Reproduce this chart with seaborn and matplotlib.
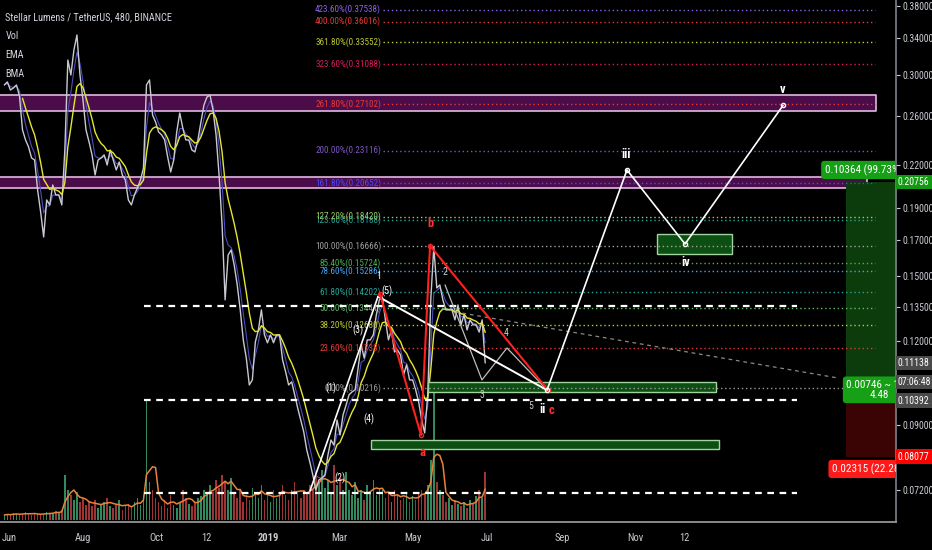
import numpy as np
import pandas as pd
import matplotlib
matplotlib.use("Agg")
import matplotlib.pyplot as plt
import matplotlib.ticker as mticker
from matplotlib import font_manager
from matplotlib.patches import Rectangle
import seaborn as sns

# XLM/USDT closes, one sample every 60h from 2018-05-28
close = [0.2897, 0.2927, 0.2847, 0.2867, 0.2897, 0.2789, 0.2482, 0.2398, 0.2341, 0.2254,
         0.2238, 0.2019, 0.1872, 0.1718, 0.1951, 0.1918, 0.2054, 0.1985, 0.1985, 0.1918,
         0.2317, 0.3156, 0.2998, 0.3267, 0.3439, 0.2998, 0.2751, 0.2482, 0.2382, 0.2278,
         0.2126, 0.2238, 0.2254, 0.2278, 0.2200, 0.2317, 0.2238, 0.2163, 0.2223, 0.2126,
         0.2090, 0.1951, 0.1918, 0.1985, 0.2033, 0.2090, 0.2177, 0.2897, 0.2947, 0.2613,
         0.2550, 0.2465, 0.2440, 0.2398, 0.2262, 0.2148, 0.2238, 0.2465, 0.2631, 0.2498,
         0.2398, 0.2398, 0.2317, 0.2301, 0.2398, 0.2550, 0.2704, 0.2779, 0.2798, 0.2658,
         0.2440, 0.2126, 0.1790, 0.1384, 0.1615, 0.1643, 0.1560, 0.1457, 0.1337, 0.1206,
         0.1133, 0.1033, 0.1051, 0.1198, 0.1248, 0.1337, 0.1227, 0.1194, 0.1227, 0.1194,
         0.1227, 0.1227, 0.1126, 0.1081, 0.1033, 0.1044, 0.0999, 0.0954, 0.0916, 0.0879,
         0.0826, 0.0793, 0.0758, 0.0720, 0.0745, 0.0750, 0.0758, 0.0812, 0.0855, 0.0840,
         0.0916, 0.0870, 0.0932, 0.0964, 0.0999, 0.1009, 0.1016, 0.1096, 0.1185, 0.1133,
         0.1206, 0.1206, 0.1227, 0.1314, 0.1384, 0.1398, 0.1292, 0.1206, 0.1248, 0.1157,
         0.1165, 0.1145, 0.1069, 0.1107, 0.1051, 0.1051, 0.1016, 0.0974, 0.0916, 0.0876,
         0.0999, 0.1384, 0.1660, 0.1442, 0.1457, 0.1384, 0.1337, 0.1337, 0.1337, 0.1292,
         0.1360, 0.1270, 0.1314, 0.1248, 0.1292, 0.1270, 0.1270, 0.1239, 0.1292, 0.1114]

volume = [5, 6, 5, 7, 6, 5, 6, 8, 6, 5, 7, 6, 5, 6, 8, 7, 6, 9, 8, 10,
          45, 30, 25, 20, 28, 18, 22,
          15, 18, 14, 20, 12, 16, 18, 22, 14, 12, 15, 20, 10, 14, 16, 12, 18, 22, 15, 25,
          120, 38, 30, 22,
          18, 14, 20, 12, 25, 15, 12, 18, 30, 22, 16, 14, 18, 22, 24,
          30, 25, 35, 28, 40, 32, 45, 38, 30, 42,
          28, 22, 30, 18, 25, 20, 32, 28, 22, 35,
          20, 25, 18, 30, 22, 28, 35, 25, 20, 30, 38, 26, 22, 30,
          28, 35, 30, 45, 38, 50, 32, 40, 28, 55, 35, 42, 30,
          48, 30, 25, 38, 22, 30, 20, 35, 28, 40, 25, 32, 30,
          22, 28, 18, 30, 25, 20, 22, 26, 18, 24, 20, 28, 30, 26, 35,
          60, 130, 38, 30, 25,
          18, 22, 15, 20, 16, 14, 18, 12, 20, 16, 24, 30, 22, 48]

# fibonacci extension
fib_base = 0.10216
fib_one = 0.16666
fib_ratios = [0, 0.236, 0.382, 0.5, 0.618, 0.786, 0.854, 1.0, 1.236, 1.272,
              1.618, 2.0, 2.618, 3.236, 3.618, 4.0, 4.236]
fib_colors = ['#9a9a9a', '#e53935', '#c0ca33', '#66bb6a', '#26a69a', '#42a5f5', '#4caf50',
              '#a0a0a0', '#26a69a', '#9ccc65', '#4a4aff', '#7e57c2', '#e53935', '#d81b60',
              '#c0ca33', '#e53935', '#8c63e8']

# wave counts (day since 2018-06-01, price)
impulse_day = [248.7, 304.9]
impulse_px = [0.0718, 0.1400]
abc_day = [306.5, 340.4, 347.9, 445.4]
abc_px = [0.1412, 0.0870, 0.1667, 0.1015]
wave_ii_day = [304.9, 444.6]
wave_ii_px = [0.1400, 0.1015]
sub_day = [360.3, 390.8, 411.5, 444.6]
sub_px = [0.1457, 0.1051, 0.1173, 0.1016]
proj_day = [444.6, 510.7, 558.7, 639.7]
proj_px = [0.1015, 0.2163, 0.1677, 0.2700]
trend_day = [368.6, 685.2]
trend_px = [0.1328, 0.1058]

labels = [("1", 305.7, 0.1503, 'white', 7), ("(5)", 312.3, 0.1427, 'white', 7),
          ("(3)", 288.3, 0.1248, 'white', 7), ("(4)", 297.4, 0.0919, 'white', 7),
          ("(1)", 266.0, 0.1023, 'white', 7), ("(2)", 273.5, 0.0750, 'white', 7),
          ("2", 360.3, 0.1524, '#cccccc', 7), ("3", 390.8, 0.0999, '#cccccc', 7),
          ("4", 410.7, 0.1236, '#cccccc', 7), ("5", 431.3, 0.0961, '#cccccc', 7),
          ("ii", 440.5, 0.0951, 'white', 9), ("c", 448.7, 0.0945, '#ff3030', 9),
          ("a", 341.3, 0.0820, '#ff3030', 9), ("b", 347.9, 0.1797, '#ff3030', 9),
          ("iii", 509.9, 0.2277, 'white', 9), ("iv", 559.5, 0.1571, 'white', 9),
          ("v", 639.7, 0.2847, 'white', 9)]

dashed_levels = [0.1356, 0.0981, 0.0713]
bands = [(0.2650, 0.2795, 716.6), (0.2036, 0.2108, 709.1)]
zones = [(346.2, 584.3, 0.1009, 0.1044), (299.1, 586.8, 0.0829, 0.0855),
         (535.5, 597.5, 0.1621, 0.1736)]

entry, target, stop = 0.10392, 0.20756, 0.08077
last_price = 0.11138

price_ticks = [0.072, 0.09, 0.12, 0.135, 0.15, 0.17, 0.19, 0.22, 0.26, 0.30, 0.34, 0.38]
date_ticks = [0, 61, 122, 163, 214, 273, 334, 395, 457, 518, 558]
date_labels = ['Jun', 'Aug', 'Oct', '12', '2019', 'Mar', 'May', 'Jul', 'Sep', 'Nov', '12']

sns.set_theme(style='dark', rc={'axes.facecolor': 'black', 'figure.facecolor': 'black',
                                'axes.grid': False})

# TradingView uses a narrow face; take one if the box has it, else shrink a bit
avail = {f.name for f in font_manager.fontManager.ttflist}
narrow = next((n for n in ['Liberation Sans Narrow', 'DejaVu Sans Condensed',
                           'Roboto Condensed', 'Open Sans Condensed'] if n in avail), None)
if narrow:
    plt.rcParams['font.family'] = [narrow, 'DejaVu Sans']
    k = 1.0
else:
    plt.rcParams['font.family'] = ['Liberation Sans', 'DejaVu Sans']
    k = 0.86

origin = pd.Timestamp('2018-06-01')
times = pd.date_range('2018-05-28', periods=len(close), freq='60h')
df = pd.DataFrame({'day': ((times - origin) / pd.Timedelta(days=1)).to_numpy(),
                   'close': close, 'volume': volume})
df['ema'] = df['close'].ewm(span=7, adjust=False).mean().where(df.index >= 6)
df['fast'] = df['close'].ewm(span=3, adjust=False).mean()
df['vol_ma'] = df['volume'].rolling(4, min_periods=1).mean()
up = df['close'].diff().fillna(0) >= 0

fig = plt.figure(figsize=(9.32, 5.5), dpi=100)
pos = [0, 28 / 550, 896 / 932, 522 / 550]
axv = fig.add_axes(pos)
ax = fig.add_axes(pos, sharex=axv)
ax.set_facecolor('none')

# volume pane
axv.bar(df['day'], df['volume'], width=1.3, linewidth=0,
        color=np.where(up, '#3a9a6a', '#b03a3a'), alpha=0.9)
sns.lineplot(x=df['day'], y=df['vol_ma'], ax=axv, color='#e8843a', lw=1.1)
axv.set_ylim(-2, 520)
axv.axis('off')

# price
ax.set_yscale('log')
sns.lineplot(x=df['day'], y=df['fast'], ax=ax, color='#4d4dc0', lw=0.8)
sns.lineplot(x=df['day'], y=df['close'], ax=ax, color='#c9c9d2', lw=1)
sns.lineplot(x=df['day'], y=df['ema'], ax=ax, color='#e6e632', lw=1)

for lo, hi, end in bands:
    ax.fill_between([-10, end], lo, hi, facecolor='#4a0d4a', edgecolor='#e0b8e0', lw=1.2, zorder=1)

for x0, x1, lo, hi in zones:
    ax.add_patch(Rectangle((x0, lo), x1 - x0, hi - lo, facecolor='#0d4f12',
                           edgecolor='#9fd49f', lw=1, zorder=2))

fib_prices = [fib_base + r * (fib_one - fib_base) for r in fib_ratios]
ax.hlines(fib_prices, 309, 715.8, colors=fib_colors, linestyles=(0, (1, 2)), lw=1, zorder=2)
for r, p, c in zip(fib_ratios, fib_prices, fib_colors):
    ax.text(307.4, p, f"{r * 100:.2f}%({p:.5f})", ha='right', va='center',
            fontsize=6.6 * k, color=c, zorder=3)

ax.hlines(dashed_levels, 111.4, 651.3, colors='white', linestyles=(0, (3, 2.5)), lw=1.6, zorder=3)

# position tool
ax.fill_between([691.6, 740], entry, target, color='#0c3b0c', lw=0, zorder=1)
ax.fill_between([691.6, 740], stop, entry, color='#3b0404', lw=0, zorder=1)

# wave drawings
ax.plot(trend_day, trend_px, color='#8a8a8a', lw=0.9, ls=(0, (3, 3)), zorder=4)
ax.plot(sub_day, sub_px, color='#bdbdbd', lw=0.9, zorder=4)
ax.plot(impulse_day, impulse_px, color='white', lw=1.2, zorder=5)
ax.plot(wave_ii_day, wave_ii_px, color='white', lw=1.4, zorder=5)
ax.plot(abc_day, abc_px, color='#ff2020', lw=1.5, marker='o', ms=3, mfc='none', zorder=5)
ax.plot(proj_day, proj_px, color='white', lw=1.2, marker='o', ms=3, mfc='none', zorder=5)

for txt, d, p, c, s in labels:
    ax.text(d, p, txt, ha='center', va='center', fontsize=s, color=c,
            fontweight='bold' if s > 8 else 'normal', zorder=6)

# position labels
ax.text(674, 0.2163, "0.10364 (99.73%)", ha='left', va='center', fontsize=8 * k, color='white',
        bbox=dict(boxstyle='round,pad=0.3', fc='#16a016', ec='none'), zorder=7, clip_on=True)
ax.text(719, 0.1016, "0.00746 ~ 10%\n4.48", ha='center', va='center', fontsize=8 * k,
        color='white', linespacing=1.0,
        bbox=dict(boxstyle='round,pad=0.3', fc='#16a016', ec='none'), zorder=7, clip_on=True)
ax.text(680, 0.0774, "0.02315 (22.28%)", ha='left', va='center', fontsize=8 * k, color='white',
        bbox=dict(boxstyle='round,pad=0.3', fc='#ff1a1a', ec='none'), zorder=7, clip_on=True)

# axes
ax.set_xlim(-7.6, 733.1)
ax.set_ylim(0.0645, 0.3879)
ax.yaxis.tick_right()
ax.yaxis.set_major_locator(mticker.FixedLocator(price_ticks))
ax.yaxis.set_major_formatter(mticker.FuncFormatter(lambda v, _: f"{v:.5f}"))
ax.yaxis.set_minor_locator(mticker.NullLocator())
ax.set_xticks(date_ticks)
ax.set_xticklabels(date_labels)
for t in ax.get_xticklabels():
    if t.get_text() == '2019':
        t.set_fontweight('bold')
ax.tick_params(axis='y', colors='#c9cbd1', labelsize=7.1 * k, length=3, width=0.8, pad=2)
ax.tick_params(axis='x', colors='#c9cbd1', labelsize=7.6 * k, length=0, pad=8)
ax.set_xlabel('')
ax.set_ylabel('')
for s in ['top', 'left']:
    ax.spines[s].set_visible(False)
ax.spines['right'].set_color('#787b86')
ax.spines['bottom'].set_color('#9a9a9a')

ytr = ax.get_yaxis_transform()
box = dict(boxstyle='square,pad=0.22', ec='none')
side = dict(transform=ytr, ha='left', va='center', fontsize=7.1 * k, color='white', clip_on=False)
ax.text(1.002, target, f"{target:.5f}", bbox={**box, 'fc': '#119a11'}, **side)
ax.text(1.002, stop, f"{stop:.5f}", bbox={**box, 'fc': '#ff0000'}, **side)
ax.text(1.002, last_price, f"{last_price:.5f}", bbox={**box, 'fc': '#4a4a4a'}, **side)
for txt, dy in [("07:06:48", -13.5), (f"{entry:.5f}", -27)]:
    ax.annotate(txt, xy=(1.002, last_price), xycoords=ytr, xytext=(0, dy),
                textcoords='offset points', ha='left', va='center', fontsize=7.1 * k,
                color='white', bbox={**box, 'fc': '#4a4a4a'}, annotation_clip=False)

legend = ["Stellar Lumens / TetherUS, 480, BINANCE", "Vol", "EMA", "BMA"]
for i, t in enumerate(legend):
    ax.text(0.006, 0.967 - i * 0.036, t, transform=ax.transAxes, ha='left', va='center',
            fontsize=7.4 * k, color='#d1d4dc')

fig.savefig('out.png', dpi=100, facecolor='black')
